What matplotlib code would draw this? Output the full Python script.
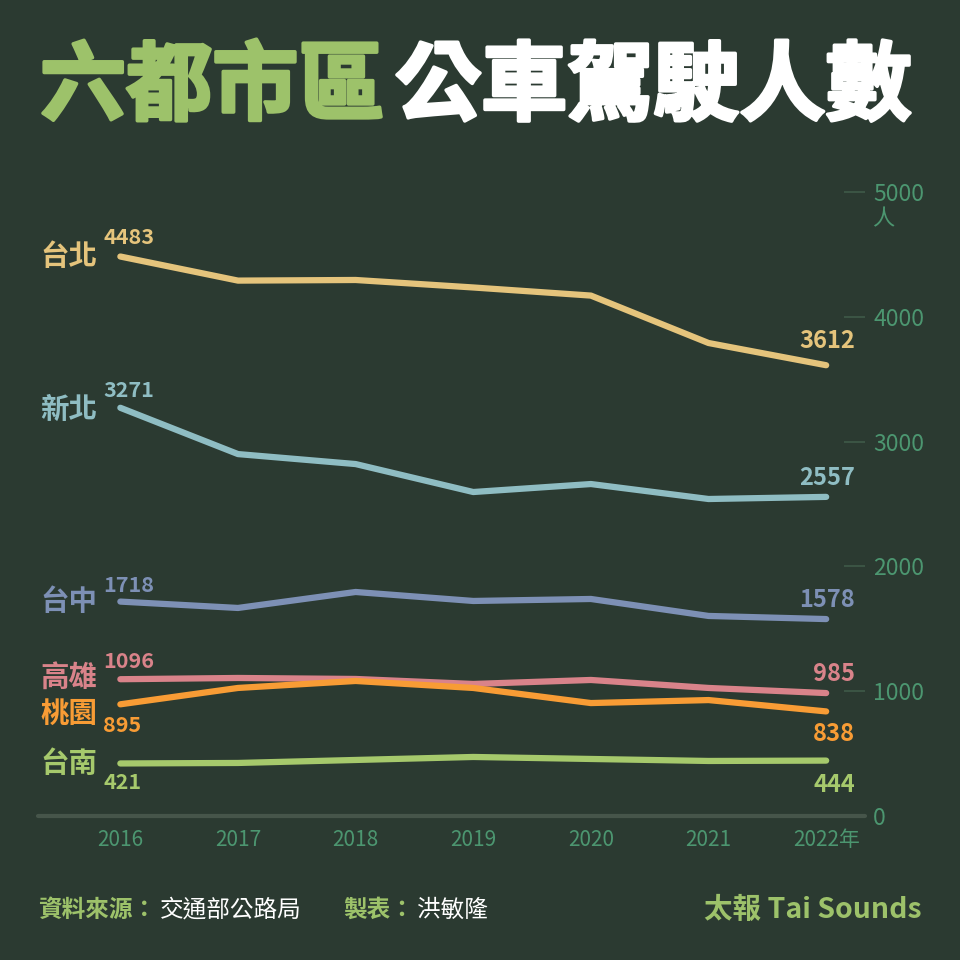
import matplotlib
matplotlib.use('Agg')
import matplotlib.pyplot as plt
import matplotlib.patheffects as pe

plt.rcParams['font.family'] = ['Noto Sans CJK TC', 'DejaVu Sans']

years = [2016, 2017, 2018, 2019, 2020, 2021, 2022]
year_labels = ['2016', '2017', '2018', '2019', '2020', '2021', '2022年']

taipei = [4483, 4290, 4295, 4235, 4170, 3790, 3612]
new_taipei = [3271, 2900, 2820, 2596, 2660, 2540, 2557]
taichung = [1718, 1667, 1795, 1723, 1739, 1603, 1578]
kaohsiung = [1096, 1106, 1098, 1058, 1090, 1026, 985]
taoyuan = [895, 1026, 1082, 1026, 905, 929, 838]
tainan = [421, 425, 449, 473, 457, 441, 444]

cities = ['台北', '新北', '台中', '高雄', '桃園', '台南']
series = [taipei, new_taipei, taichung, kaohsiung, taoyuan, tainan]
colors = ['#e5c47c', '#8fbdc3', '#7d90b5', '#d9838a', '#f89c35', '#a6c96c']
# label offsets in pixels: (city dy, start value dy, end value dy)
offsets = [(0, 13, 17), (-2, 11, 12), (0, 10, 12), (1, 11, 12), (-10, -28, -30), (-1, -26, -31)]

bg = '#2b3a31'
tick_col = '#4c9670'
green = '#9dc26a'

fig = plt.figure(figsize=(9.6, 9.6), dpi=100, facecolor=bg)
ax = fig.add_axes([38/960, 0.15, 827/960, 0.65])
ax.set_facecolor(bg)

for name, vals, c, off in zip(cities, series, colors, offsets):
    ax.plot(years, vals, color=c, lw=4.5, solid_capstyle='round',
            solid_joinstyle='round', zorder=3)
    ax.annotate(name, (years[0], vals[0]), xytext=(-23, off[0]),
                textcoords='offset pixels', ha='right', va='center',
                color=c, fontsize=20.5, fontweight='bold')
    ax.annotate(str(vals[0]), (years[0], vals[0]), xytext=(-17, off[1]),
                textcoords='offset pixels', ha='left', va='baseline',
                color=c, fontsize=15.5, fontweight='bold')
    ax.annotate(str(vals[-1]), (years[-1], vals[-1]), xytext=(29, off[2]),
                textcoords='offset pixels', ha='right', va='baseline',
                color=c, fontsize=17, fontweight='bold')

ax.set_xlim(2015.30, 2022.33)
ax.set_ylim(0, 5000)
ax.set_xticks(years)
ax.set_xticklabels(year_labels)
ax.set_yticks([0, 1000, 2000, 3000, 4000, 5000])
ax.yaxis.tick_right()
ax.tick_params(axis='y', direction='in', length=15, width=1.2,
               color='#3f5a48', labelcolor=tick_col, labelsize=16.5, pad=6)
ax.tick_params(axis='x', length=0, labelcolor=tick_col, labelsize=15, pad=9)
for s in ['top', 'left', 'right']:
    ax.spines[s].set_visible(False)
ax.spines['bottom'].set_color('#46554a')
ax.spines['bottom'].set_linewidth(3)
ax.spines['bottom'].set_capstyle('round')
ax.text(872/960, 1 - 219/960, '人', transform=fig.transFigure,
        color=tick_col, fontsize=16, ha='left', va='center')

# title
thick = lambda c: [pe.withStroke(linewidth=2.5, foreground=c)]
fig.text(40/960, 1 - 88/960, '六都市區', color=green, fontsize=62,
         fontweight='black', ha='left', va='center', path_effects=thick(green))
fig.text(395/960, 1 - 88/960, '公車駕駛人數', color='white', fontsize=62,
         fontweight='black', ha='left', va='center', path_effects=thick('white'))

# footer
fy = 1 - 910/960
fig.text(38/960, fy, '資料來源：', color=green, fontsize=17,
         fontweight='bold', ha='left', va='center')
fig.text(160/960, fy, '交通部公路局', color='white', fontsize=17,
         ha='left', va='center')
fig.text(343/960, fy, '製表：', color=green, fontsize=17,
         fontweight='bold', ha='left', va='center')
fig.text(417/960, fy, '洪敏隆', color='white', fontsize=17,
         ha='left', va='center')
fig.text(922/960, fy, '太報 Tai Sounds', color=green, fontsize=20.5,
         fontweight='bold', ha='right', va='center')

fig.savefig('out.png', dpi=100, facecolor=bg)
